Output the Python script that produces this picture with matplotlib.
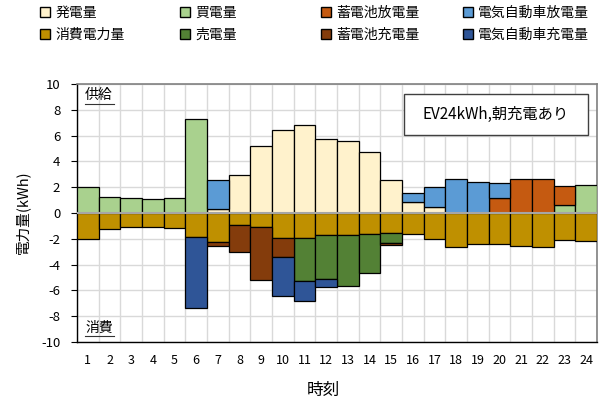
import matplotlib
matplotlib.use("Agg")
import matplotlib.pyplot as plt
from matplotlib.patches import Patch, Rectangle
import numpy as np

plt.rcParams['font.family'] = ['Noto Sans CJK JP', 'DejaVu Sans']
plt.rcParams['axes.unicode_minus'] = False

hours = list(range(1, 25))
# supply side (kWh)
pv       = [0, 0, 0, 0, 0, 0, 0.28, 2.98, 5.17, 6.44, 6.83, 5.72, 5.61, 4.71, 2.54, 0.85, 0.47, 0, 0, 0, 0, 0, 0, 0]
buy      = [2.0, 1.27, 1.13, 1.11, 1.14, 7.32, 0, 0, 0, 0, 0, 0, 0, 0, 0, 0, 0, 0, 0, 0, 0, 0, 0.62, 2.2]
batt_dis = [0, 0, 0, 0, 0, 0, 0, 0, 0, 0, 0, 0, 0, 0, 0, 0, 0, 0, 0, 1.19, 2.61, 2.61, 1.48, 0]
ev_dis   = [0, 0, 0, 0, 0, 0, 2.25, 0, 0, 0, 0, 0, 0, 0, 0, 0.73, 1.52, 2.66, 2.41, 1.14, 0, 0, 0, 0]
# demand side (kWh, plotted negative)
cons     = [2.0, 1.27, 1.11, 1.11, 1.16, 1.84, 2.25, 0.96, 1.08, 1.97, 1.91, 1.68, 1.68, 1.63, 1.55, 1.6, 2.02, 2.66, 2.43, 2.38, 2.59, 2.61, 2.12, 2.2]
sell     = [0, 0, 0, 0, 0, 0, 0, 0, 0, 0, 3.34, 3.44, 3.96, 3.05, 0.8, 0, 0, 0, 0, 0, 0, 0, 0, 0]
batt_chg = [0, 0, 0, 0, 0, 0, 0.28, 2.07, 4.1, 1.42, 0, 0, 0, 0, 0.16, 0, 0, 0, 0, 0, 0, 0, 0, 0]
ev_chg   = [0, 0, 0, 0, 0, 5.53, 0, 0, 0, 3.05, 1.58, 0.62, 0, 0, 0, 0, 0, 0, 0, 0, 0, 0, 0, 0]

supply_series = [("発電量", pv, "#FFF2CC"), ("買電量", buy, "#A9D18E"),
                 ("蓄電池放電量", batt_dis, "#C55A11"), ("電気自動車放電量", ev_dis, "#5B9BD5")]
demand_series = [("消費電力量", cons, "#BF9000"), ("売電量", sell, "#538135"),
                 ("蓄電池充電量", batt_chg, "#843C0C"), ("電気自動車充電量", ev_chg, "#2F5597")]

fig = plt.figure(figsize=(6.06, 4.01), dpi=100)
ax = fig.add_axes([77/606, 1 - 342/401, 520/606, 258/401])

x = np.array(hours)

def draw_stack(series, sign):
    base = np.zeros(len(hours))
    for name, vals, col in series:
        v = np.array(vals, dtype=float)
        m = v > 0
        ax.bar(x[m], sign * v[m], bottom=base[m], width=1.0, color=col,
               edgecolor="black", linewidth=0.9, zorder=3)
        base = base + sign * v

draw_stack(supply_series, 1)
draw_stack(demand_series, -1)

ax.set_xlim(0.5, 24.5)
ax.set_ylim(-10, 10)
ax.set_yticks(np.arange(-10, 11, 2))
ax.set_xticks(hours)
ax.set_xticks(np.arange(0.5, 25, 1), minor=True)
ax.grid(False)
ax.yaxis.grid(True, color="#D9D9D9", linewidth=1.0, zorder=0)
ax.xaxis.grid(True, which="minor", color="#D9D9D9", linewidth=1.0, zorder=0)
ax.set_axisbelow(True)
ax.axhline(0, color="#A6A6A6", linewidth=1.5, zorder=4)

ax.tick_params(axis="x", which="both", length=0, pad=9, labelsize=9)
ax.tick_params(axis="y", length=4, width=0.8, pad=8, labelsize=9.5, direction="out")
for s in ["top", "right"]:
    ax.spines[s].set_color("#808080")
    ax.spines[s].set_linewidth(1.2)
for s in ["left", "bottom"]:
    ax.spines[s].set_color("black")
    ax.spines[s].set_linewidth(1.0)

# axis labels
fig.text(323/606, 1 - 390/401, "時刻", ha="center", va="center", fontsize=12)
fig.text(23/606, 1 - 212/401, "電力量(kWh)", ha="center", va="center", rotation=90, fontsize=10.5)

# 供給 / 消費 labels (underlined)
ax.text(0.0154, 0.957, "供給", transform=ax.transAxes, ha="left", va="center", fontsize=10, zorder=6)
ax.text(0.0154, 0.055, "消費", transform=ax.transAxes, ha="left", va="center", fontsize=10, zorder=6)
ax.plot([0.0154, 0.071], [0.922, 0.922], transform=ax.transAxes, color="#333333", lw=0.8, zorder=6)
ax.plot([0.0154, 0.071], [0.022, 0.022], transform=ax.transAxes, color="#333333", lw=0.8, zorder=6)

# annotation box
bx0, bx1, by0, by1 = 404, 588, 94, 135
ax.add_patch(Rectangle(((bx0 - 77) / 520, (342 - by1) / 258), (bx1 - bx0) / 520, (by1 - by0) / 258,
                       transform=ax.transAxes, facecolor="white", edgecolor="#404040", lw=1.0, zorder=6))
ax.text(((bx0 + bx1) / 2 - 77) / 520, (342 - (by0 + by1) / 2) / 258, "EV24kWh,朝充電あり",
        transform=ax.transAxes, ha="center", va="center", fontsize=11, zorder=7)

# legend: four columns placed separately
cols = [(40, supply_series[0], demand_series[0]),
        (180, supply_series[1], demand_series[1]),
        (321, supply_series[2], demand_series[2]),
        (463, supply_series[3], demand_series[3])]
for xpos, s_item, d_item in cols:
    handles = [Patch(facecolor=s_item[2], edgecolor="black", linewidth=1.0, label=s_item[0]),
               Patch(facecolor=d_item[2], edgecolor="black", linewidth=1.0, label=d_item[0])]
    fig.legend(handles=handles, loc="upper left", bbox_to_anchor=(xpos / 606, 1 - 6 / 401),
               frameon=False, fontsize=10, handlelength=0.7, handleheight=0.7,
               handletextpad=0.4, labelspacing=0.55, borderpad=0, borderaxespad=0)

fig.savefig("out.png", dpi=100)
